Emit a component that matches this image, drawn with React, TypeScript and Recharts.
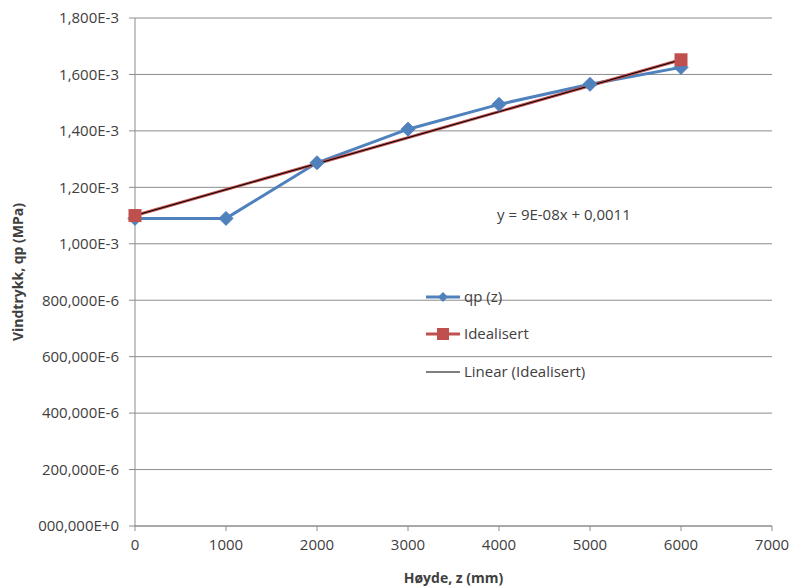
import React from "react";
import {
  LineChart,
  Line,
  XAxis,
  YAxis,
  CartesianGrid,
} from "recharts";

const qpHeights = [0, 1000, 2000, 3000, 4000, 5000, 6000];
const qpValues = [1.09e-3, 1.09e-3, 1.287e-3, 1.406e-3, 1.494e-3, 1.565e-3, 1.625e-3];

const idealHeights = [0, 6000];
const idealValues = [1.1e-3, 1.652e-3];

const xTicks = [0, 1000, 2000, 3000, 4000, 5000, 6000, 7000];
const yTicks = [0, 0.0002, 0.0004, 0.0006, 0.0008, 0.001, 0.0012, 0.0014, 0.0016, 0.0018];
const yTickLabels = [
  "000,000E+0",
  "200,000E-6",
  "400,000E-6",
  "600,000E-6",
  "800,000E-6",
  "1,000E-3",
  "1,200E-3",
  "1,400E-3",
  "1,600E-3",
  "1,800E-3",
];

const qpData = qpHeights.map((x, i) => ({ x, y: qpValues[i] }));
const idealData = idealHeights.map((x, i) => ({ x, y: idealValues[i] }));
const trendData = idealData;

const BLUE = "#4F81BD";
const RED = "#C0504D";
const TEXT = "#404040";
const GRID = "#8C8C8C";
const FONT = "'Open Sans', 'Noto Sans', sans-serif";

const Diamond = (props: any) => {
  const { cx, cy } = props;
  if (cx == null || cy == null) return null;
  const r = 7;
  return (
    <path
      key={`d-${cx}`}
      d={`M${cx},${cy - r} L${cx + r},${cy} L${cx},${cy + r} L${cx - r},${cy} Z`}
      fill={BLUE}
      stroke={BLUE}
    />
  );
};

const Square = (props: any) => {
  const { cx, cy } = props;
  if (cx == null || cy == null) return null;
  const s = 13;
  return <rect key={`s-${cx}`} x={cx - s / 2} y={cy - s / 2} width={s} height={s} fill={RED} />;
};

const LegendBox = () => (
  <svg width={200} height={100} style={{ display: "block" }}>
    <g>
      <line x1={3} x2={37} y1={12} y2={12} stroke={BLUE} strokeWidth={3} />
      <path d="M20,7 L25,12 L20,17 L15,12 Z" fill={BLUE} />
      <text x={41} y={17} fontSize={15} fill={TEXT} fontFamily={FONT}>qp (z)</text>
    </g>
    <g>
      <line x1={3} x2={37} y1={49} y2={49} stroke={RED} strokeWidth={3} />
      <rect x={14} y={43} width={12} height={12} fill={RED} />
      <text x={41} y={54} fontSize={15} fill={TEXT} fontFamily={FONT}>Idealisert</text>
    </g>
    <g>
      <line x1={3} x2={37} y1={87} y2={87} stroke="#000" strokeWidth={1} />
      <text x={41} y={92} fontSize={15} fill={TEXT} fontFamily={FONT}>Linear (Idealisert)</text>
    </g>
  </svg>
);

export default function App() {
  return (
    <div style={{ position: "relative", width: 792, height: 587, background: "#fff" }}>
      <style>{`body{margin:0}`}</style>
      <LineChart
        width={792}
        height={587}
        margin={{ top: 18, right: 20, left: 0, bottom: 0 }}
        style={{ fontFamily: FONT }}
      >
        <CartesianGrid vertical={false} stroke={GRID} strokeWidth={1} />
        <XAxis
          type="number"
          dataKey="x"
          domain={[0, 7000]}
          ticks={xTicks}
          height={61}
          tickSize={5}
          tickMargin={8}
          stroke={GRID}
          tick={{ fill: TEXT, fontSize: 15 }}
          label={{
            value: "Høyde, z (mm)",
            position: "insideBottom",
            offset: 4,
            fill: TEXT,
            fontSize: 14,
            fontWeight: "bold",
          }}
        />
        <YAxis
          type="number"
          dataKey="y"
          domain={[0, 0.0018]}
          ticks={yTicks}
          width={135}
          tickSize={6}
          tickMargin={10}
          stroke={GRID}
          tick={{ fill: TEXT, fontSize: 15 }}
          tickFormatter={(v: number) => {
            const i = yTicks.findIndex((t) => Math.abs(t - v) < 1e-9);
            return i >= 0 ? yTickLabels[i] : String(v);
          }}
          label={{
            value: "Vindtrykk, qp (MPa)",
            angle: -90,
            position: "insideLeft",
            offset: 18,
            fill: TEXT,
            fontSize: 14,
            fontWeight: "bold",
            style: { textAnchor: "middle" },
          }}
        />
        <Line
          data={qpData}
          dataKey="y"
          name="qp (z)"
          stroke={BLUE}
          strokeWidth={3}
          dot={<Diamond />}
          activeDot={false}
          isAnimationActive={false}
        />
        <Line
          data={idealData}
          dataKey="y"
          name="Idealisert"
          stroke={RED}
          strokeWidth={3}
          dot={<Square />}
          activeDot={false}
          isAnimationActive={false}
        />
        <Line
          data={trendData}
          dataKey="y"
          name="Linear (Idealisert)"
          stroke="#000"
          strokeWidth={1}
          dot={false}
          activeDot={false}
          isAnimationActive={false}
        />
      </LineChart>
      <div style={{ position: "absolute", left: 423, top: 285 }}>
        <LegendBox />
      </div>
      <div
        style={{
          position: "absolute",
          left: 497,
          top: 204,
          fontFamily: FONT,
          fontSize: 15,
          color: TEXT,
          whiteSpace: "nowrap",
        }}
      >
        y = 9E-08x + 0,0011
      </div>
    </div>
  );
}
